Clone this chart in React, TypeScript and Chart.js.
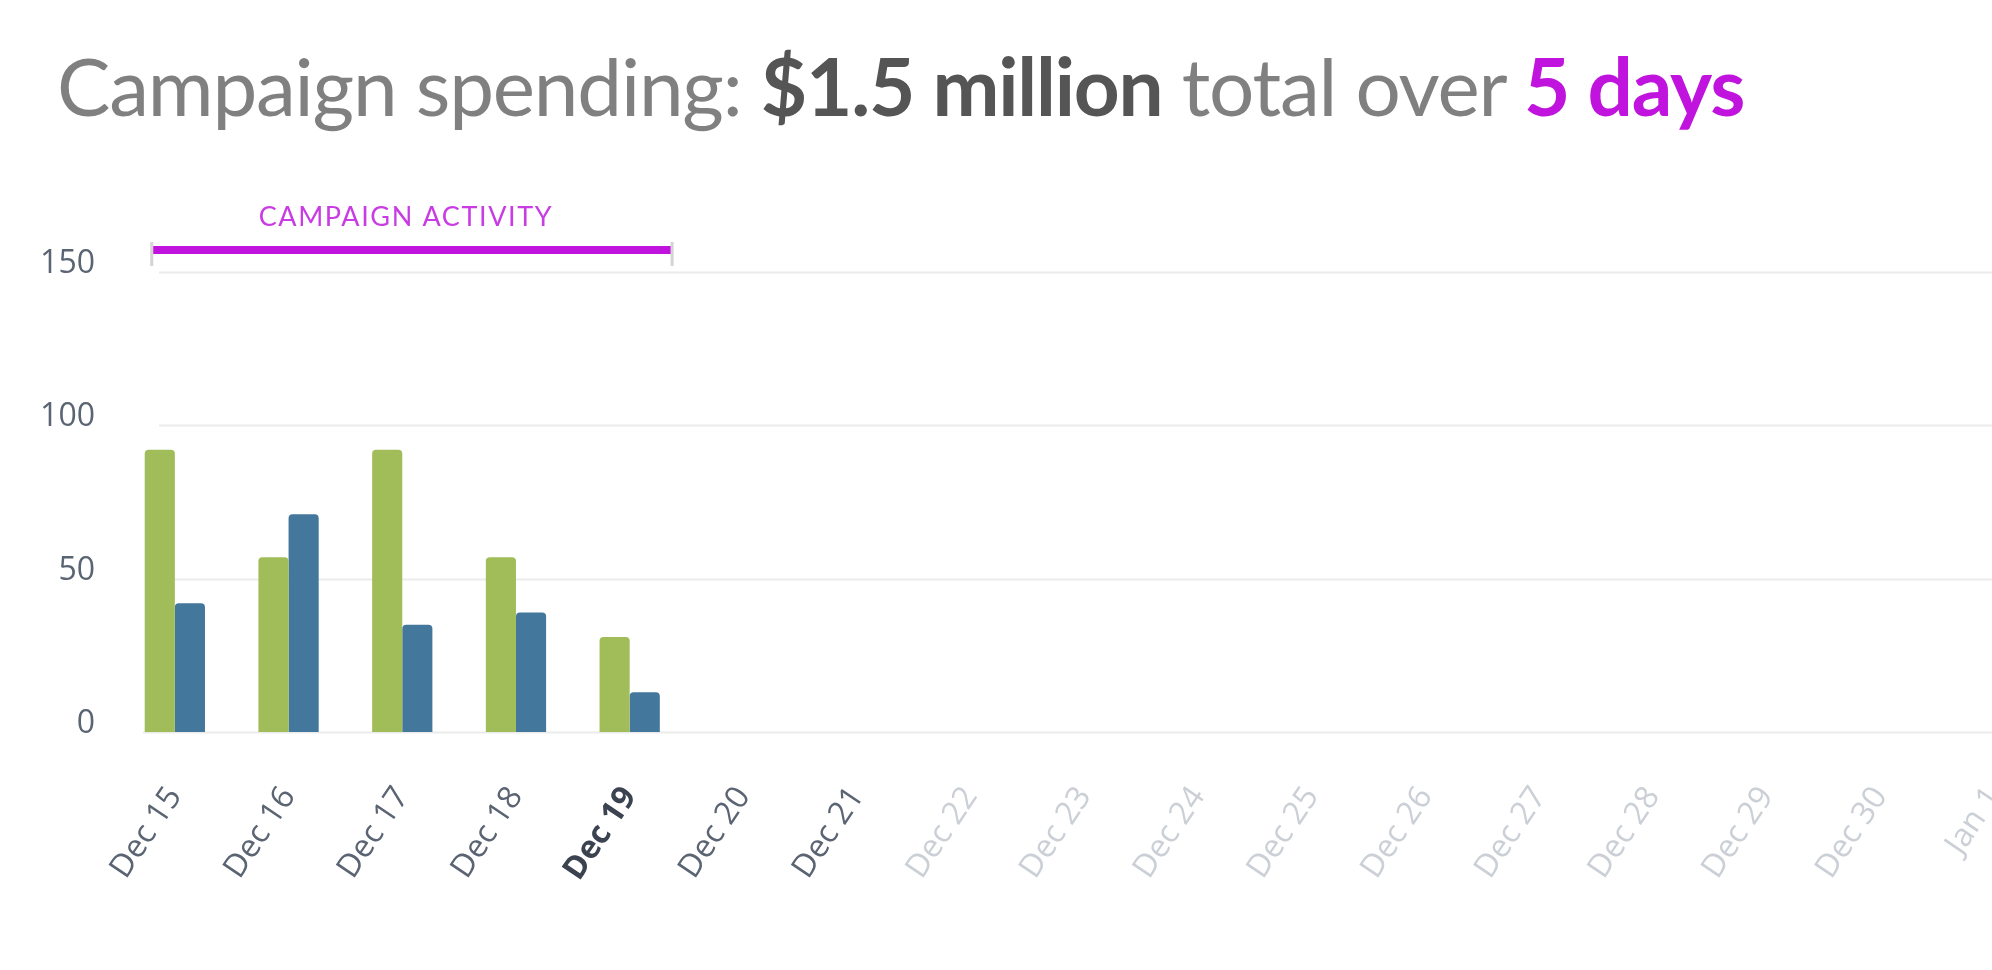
import React, { useEffect, useRef } from "react";
import { Chart, registerables } from "chart.js";

Chart.register(...registerables);

// ---- data ----
const categories = [
  "Dec 15", "Dec 16", "Dec 17", "Dec 18", "Dec 19", "Dec 20", "Dec 21", "Dec 22",
  "Dec 23", "Dec 24", "Dec 25", "Dec 26", "Dec 27", "Dec 28", "Dec 29", "Dec 30", "Jan 1",
];
const seriesGreen = [92, 57, 92, 57, 31, null, null, null, null, null, null, null, null, null, null, null, null];
const seriesBlue = [42, 71, 35, 39, 13, null, null, null, null, null, null, null, null, null, null, null, null];
const yTickValues = [0, 50, 100, 150];
const campaignLabel = "CAMPAIGN ACTIVITY";
const campaignStartIndex = 0;
const campaignEndIndex = 4;
const highlightIndex = 4;
const activeLabelCount = 7;

const GREEN = "#A0BD59";
const BLUE = "#44779C";
const MAGENTA = "#C013DE";

const overlayPlugin = {
  id: "overlay",
  beforeDatasetsDraw(chart: any) {
    const { ctx, chartArea, scales } = chart;
    const y = scales.y;
    ctx.save();
    yTickValues.forEach((v) => {
      const py = Math.round(y.getPixelForValue(v)) + 0.5;
      ctx.strokeStyle = "#ebebeb";
      ctx.lineWidth = 2;
      ctx.beginPath();
      ctx.moveTo(chartArea.left + (v === 0 ? 25 : 41), py);
      ctx.lineTo(chartArea.right, py);
      ctx.stroke();
    });
    ctx.restore();
  },
  afterDraw(chart: any) {
    const { ctx, scales } = chart;
    const x = scales.x;
    const y = scales.y;
    const w = x.getPixelForValue(1) - x.getPixelForValue(0);
    const x0 = x.getPixelForValue(campaignStartIndex) - 0.19 * w;
    const x1 = x.getPixelForValue(campaignEndIndex) + 0.36 * w;
    const by = y.getPixelForValue(150) - 22;
    ctx.save();
    ctx.fillStyle = "#d4d4d4";
    ctx.fillRect(x0 - 3, by - 8, 3, 24);
    ctx.fillRect(x1, by - 8, 3, 24);
    ctx.fillStyle = MAGENTA;
    ctx.fillRect(x0, by - 4, x1 - x0, 8);
    ctx.fillStyle = "#C93BE3";
    ctx.font = "400 27px Lato";
    (ctx as any).letterSpacing = "1.6px";
    ctx.textAlign = "center";
    ctx.textBaseline = "alphabetic";
    ctx.fillText(campaignLabel, (x0 + x1) / 2 - 6, by - 24);
    ctx.restore();
  },
};

export default function App() {
  const canvasRef = useRef<HTMLCanvasElement | null>(null);

  useEffect(() => {
    if (!canvasRef.current) return;
    const chart = new Chart(canvasRef.current, {
      type: "bar",
      data: {
        labels: categories,
        datasets: [
          {
            data: seriesGreen as any,
            backgroundColor: GREEN,
            borderRadius: 4,
            categoryPercentage: 0.53,
            barPercentage: 1.0,
          },
          {
            data: seriesBlue as any,
            backgroundColor: BLUE,
            borderRadius: 4,
            categoryPercentage: 0.53,
            barPercentage: 1.0,
          },
        ],
      },
      options: {
        animation: false,
        responsive: true,
        maintainAspectRatio: false,
        layout: { padding: { top: 272, left: 0, right: 0, bottom: 0 } },
        plugins: {
          legend: { display: false },
          tooltip: { enabled: false },
          title: { display: false },
        },
        scales: {
          x: {
            type: "category",
            grid: { display: false, drawTicks: false },
            border: { display: false },
            afterFit: (s: any) => {
              s.height = 238;
              s.paddingLeft = 0;
              s.paddingRight = 0;
            },
            ticks: {
              autoSkip: false,
              minRotation: 56,
              maxRotation: 56,
              padding: 48,
              color: (c: any) =>
                c.index === highlightIndex ? "#3b4250" : c.index < activeLabelCount ? "#5b6472" : "#cbcfd6",
              font: (c: any) => ({
                family: "'Open Sans'",
                size: 32,
                weight: c.index === highlightIndex ? "bold" : "normal",
              }),
            },
          },
          y: {
            min: 0,
            max: 150,
            grid: { display: false, drawTicks: false },
            border: { display: false },
            afterFit: (s: any) => {
              s.width = 118;
            },
            afterBuildTicks: (s: any) => {
              s.ticks = yTickValues.map((v) => ({ value: v }));
            },
            ticks: {
              padding: 23,
              labelOffset: -8,
              color: "#5b6472",
              font: { family: "'Open Sans'", size: 32 },
            },
          },
        },
      },
      plugins: [overlayPlugin],
    });
    return () => chart.destroy();
  }, []);

  return (
    <div
      style={{
        position: "absolute",
        left: 0,
        top: 0,
        width: 1992,
        height: 970,
        overflow: "hidden",
        background: "#ffffff",
      }}
    >
      <div
        style={{
          position: "absolute",
          left: 57,
          top: 45,
          fontFamily: "Lato",
          fontSize: 80,
          lineHeight: "80px",
          letterSpacing: "-1.2px",
          whiteSpace: "nowrap",
          color: "#808080",
          fontWeight: 400,
        }}
      >
        Campaign spending:{" "}
        <span style={{ fontWeight: 700, color: "#555555" }}>$1.5 million</span> total over{" "}
        <span style={{ fontWeight: 700, color: MAGENTA }}>5 days</span>
      </div>
      <div style={{ position: "absolute", left: 0, top: 0, width: 2051, height: 970 }}>
        <canvas ref={canvasRef} />
      </div>
    </div>
  );
}
